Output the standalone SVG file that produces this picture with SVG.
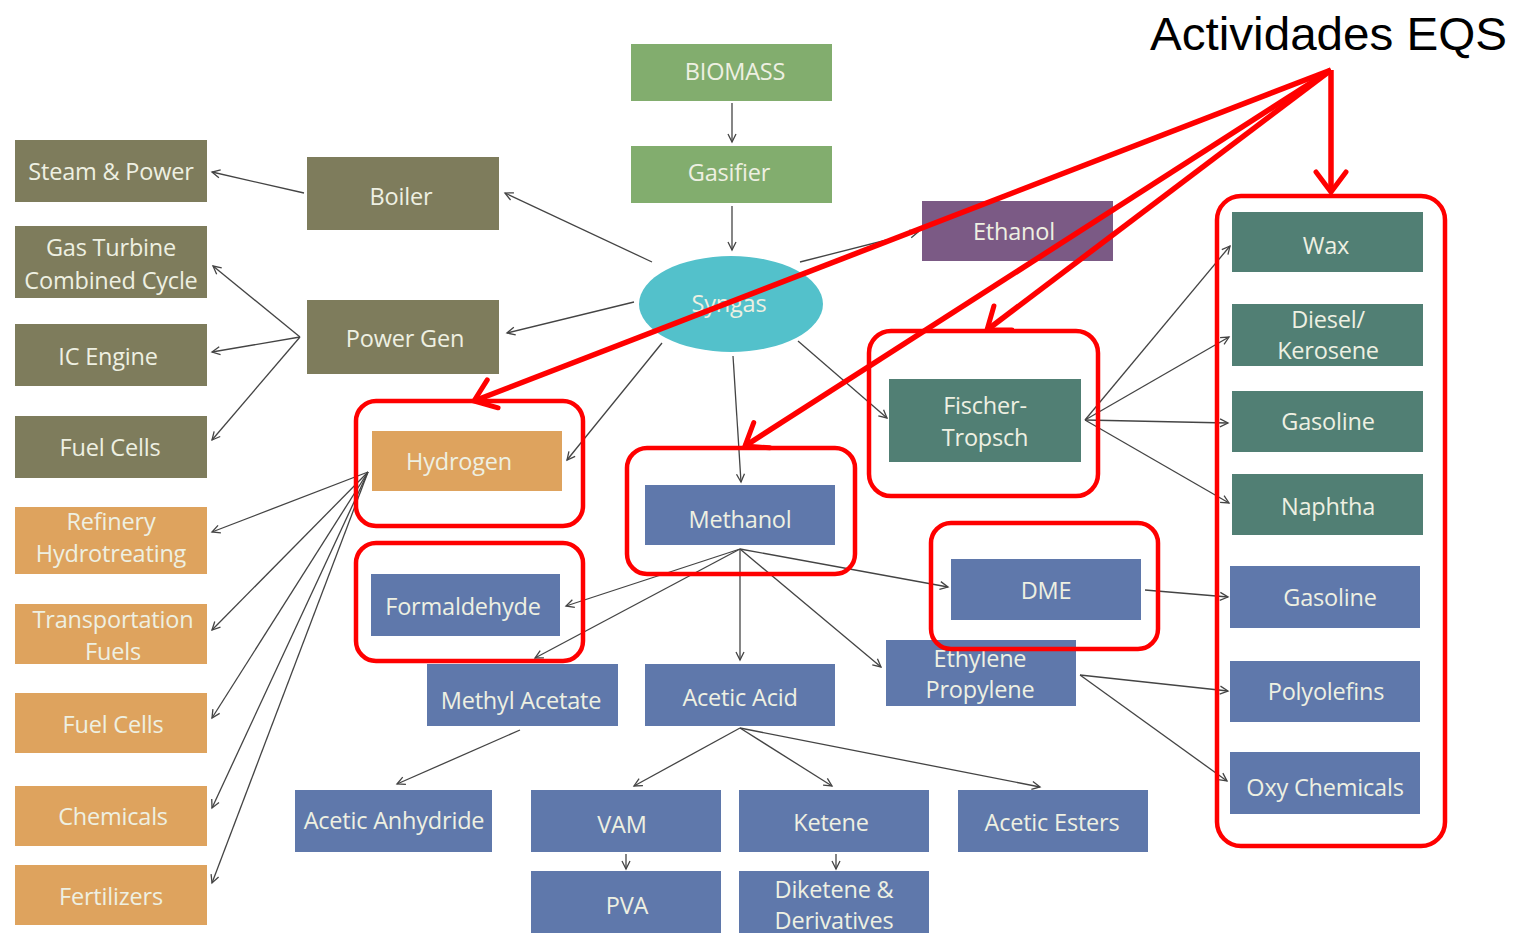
<svg xmlns="http://www.w3.org/2000/svg" width="1514" height="933" viewBox="0 0 1514 933">
  <defs>
    <style>
      .box text { font-family: "Open Sans", "Liberation Sans", sans-serif; font-size: 23.5px; fill: #eef0e2; text-anchor: middle; letter-spacing: -0.2px; }
      .green rect { fill: #82ad6e; }
      .olive rect { fill: #7e7c5c; }
      .orange rect { fill: #dea35e; }
      .blue rect { fill: #5f78ab; }
      .teal rect { fill: #517f74; }
      .purple rect { fill: #7b5a85; }
      .syngas ellipse { fill: #53c1cb; }
      .links line { stroke: #444; stroke-width: 1.3; fill: none; marker-end: url(#tip); }
      .hl rect { fill: none; stroke: #ff0000; stroke-width: 4.5; }
      .callout line { stroke: #ff0000; stroke-width: 5.5; marker-end: url(#redtip); }
      .title { font-family: "Liberation Sans", Arial, sans-serif; font-size: 47px; fill: #000; }
    </style>
    <marker id="tip" markerUnits="userSpaceOnUse" markerWidth="12" markerHeight="12" refX="9" refY="5" orient="auto" viewBox="0 0 12 10">
      <path d="M1,1 L9,5 L1,9" fill="none" stroke="#444" stroke-width="1.3"/>
    </marker>
    <marker id="redtip" markerUnits="userSpaceOnUse" markerWidth="30" markerHeight="40" refX="24" refY="18" orient="auto" viewBox="0 0 30 36">
      <path d="M4,3 L24,18 L4,33" fill="none" stroke="#ff0000" stroke-width="5" stroke-linecap="round" stroke-linejoin="miter"/>
    </marker>
  </defs>

  <rect width="1514" height="933" fill="#ffffff"/>

  <!-- flow connectors -->
  <g id="connectors" class="links">
    <line x1="732" y1="103" x2="732" y2="142"/>
    <line x1="732" y1="206" x2="732" y2="250"/>
    <line x1="652" y1="262" x2="505" y2="193"/>
    <line x1="634" y1="302" x2="507" y2="333"/>
    <line x1="800" y1="262" x2="918" y2="232"/>
    <line x1="662" y1="343" x2="567" y2="460"/>
    <line x1="733" y1="356" x2="741" y2="482"/>
    <line x1="798" y1="341" x2="887" y2="418"/>
    <line x1="304" y1="193" x2="212" y2="172"/>
    <line x1="300" y1="337" x2="213" y2="266"/>
    <line x1="300" y1="337" x2="212" y2="352"/>
    <line x1="300" y1="337" x2="212" y2="440"/>
    <line x1="368" y1="472" x2="212" y2="532"/>
    <line x1="368" y1="472" x2="212" y2="630"/>
    <line x1="368" y1="472" x2="212" y2="718"/>
    <line x1="368" y1="472" x2="212" y2="808"/>
    <line x1="368" y1="472" x2="212" y2="883"/>
    <line x1="740" y1="549" x2="566" y2="606"/>
    <line x1="740" y1="549" x2="535" y2="658"/>
    <line x1="740" y1="549" x2="740" y2="660"/>
    <line x1="740" y1="549" x2="881" y2="667"/>
    <line x1="740" y1="549" x2="948" y2="587"/>
    <line x1="1145" y1="590" x2="1228" y2="597"/>
    <line x1="1080" y1="675" x2="1228" y2="691"/>
    <line x1="1080" y1="675" x2="1227" y2="781"/>
    <line x1="1085" y1="420" x2="1230" y2="246"/>
    <line x1="1085" y1="420" x2="1229" y2="337"/>
    <line x1="1085" y1="420" x2="1228" y2="423"/>
    <line x1="1085" y1="420" x2="1229" y2="503"/>
    <line x1="520" y1="730" x2="397" y2="784"/>
    <line x1="740" y1="728" x2="634" y2="786"/>
    <line x1="740" y1="728" x2="832" y2="786"/>
    <line x1="740" y1="728" x2="1040" y2="787"/>
    <line x1="626" y1="854" x2="626" y2="869"/>
    <line x1="836" y1="854" x2="836" y2="869"/>
  </g>

  <!-- feedstock and gasification -->
  <g id="biomass" class="box green"><rect x="631" y="44" width="201" height="57"/><text x="735" y="80">BIOMASS</text></g>
  <g id="gasifier" class="box green"><rect x="631" y="146" width="201" height="57"/><text x="729" y="181">Gasifier</text></g>
  <g id="syngas" class="box syngas"><ellipse cx="731" cy="304" rx="92" ry="48"/><text x="729" y="312">Syngas</text></g>
  <g id="ethanol" class="box purple"><rect x="922" y="201" width="191" height="60"/><text x="1014" y="240">Ethanol</text></g>

  <!-- power branch -->
  <g id="boiler" class="box olive"><rect x="307" y="157" width="192" height="73"/><text x="401" y="205">Boiler</text></g>
  <g id="power-gen" class="box olive"><rect x="307" y="300" width="192" height="74"/><text x="405" y="347">Power Gen</text></g>
  <g id="steam-power" class="box olive"><rect x="15" y="140" width="192" height="62"/><text x="111" y="180">Steam &amp; Power</text></g>
  <g id="gas-turbine" class="box olive"><rect x="15" y="226" width="192" height="72"/><text x="111" y="256">Gas Turbine</text><text x="111" y="289">Combined Cycle</text></g>
  <g id="ic-engine" class="box olive"><rect x="15" y="324" width="192" height="62"/><text x="108" y="365">IC Engine</text></g>
  <g id="fuel-cells-power" class="box olive"><rect x="15" y="416" width="192" height="62"/><text x="110" y="456">Fuel Cells</text></g>

  <!-- hydrogen branch -->
  <g id="hydrogen" class="box orange"><rect x="372" y="431" width="190" height="60"/><text x="459" y="470">Hydrogen</text></g>
  <g id="refinery" class="box orange"><rect x="15" y="507" width="192" height="67"/><text x="111" y="530">Refinery</text><text x="111" y="562">Hydrotreating</text></g>
  <g id="transportation" class="box orange"><rect x="15" y="604" width="192" height="60"/><text x="113" y="628">Transportation</text><text x="113" y="660">Fuels</text></g>
  <g id="fuel-cells-h2" class="box orange"><rect x="15" y="693" width="192" height="60"/><text x="113" y="733">Fuel Cells</text></g>
  <g id="chemicals" class="box orange"><rect x="15" y="786" width="192" height="60"/><text x="113" y="825">Chemicals</text></g>
  <g id="fertilizers" class="box orange"><rect x="15" y="865" width="192" height="60"/><text x="111" y="905">Fertilizers</text></g>

  <!-- methanol branch -->
  <g id="methanol" class="box blue"><rect x="645" y="485" width="190" height="60"/><text x="740" y="528">Methanol</text></g>
  <g id="formaldehyde" class="box blue"><rect x="371" y="574" width="189" height="62"/><text x="463" y="615">Formaldehyde</text></g>
  <g id="dme" class="box blue"><rect x="951" y="559" width="190" height="61"/><text x="1046" y="599">DME</text></g>
  <g id="ethylene" class="box blue"><rect x="886" y="640" width="190" height="66"/><text x="980" y="667">Ethylene</text><text x="980" y="698">Propylene</text></g>
  <g id="methyl-acetate" class="box blue"><rect x="427" y="664" width="191" height="62"/><text x="521" y="709">Methyl Acetate</text></g>
  <g id="acetic-acid" class="box blue"><rect x="645" y="664" width="190" height="62"/><text x="740" y="706">Acetic Acid</text></g>
  <g id="acetic-anhydride" class="box blue"><rect x="295" y="790" width="197" height="62"/><text x="394" y="829">Acetic Anhydride</text></g>
  <g id="vam" class="box blue"><rect x="531" y="790" width="190" height="62"/><text x="622" y="833">VAM</text></g>
  <g id="ketene" class="box blue"><rect x="739" y="790" width="190" height="62"/><text x="831" y="831">Ketene</text></g>
  <g id="acetic-esters" class="box blue"><rect x="958" y="790" width="190" height="62"/><text x="1052" y="831">Acetic Esters</text></g>
  <g id="pva" class="box blue"><rect x="531" y="871" width="190" height="62"/><text x="627" y="914">PVA</text></g>
  <g id="diketene" class="box blue"><rect x="739" y="871" width="190" height="62"/><text x="834" y="898">Diketene &amp;</text><text x="834" y="929">Derivatives</text></g>

  <!-- Fischer-Tropsch branch -->
  <g id="fischer-tropsch" class="box teal"><rect x="889" y="379" width="192" height="83"/><text x="985" y="414">Fischer-</text><text x="985" y="446">Tropsch</text></g>
  <g id="wax" class="box teal"><rect x="1232" y="212" width="191" height="60"/><text x="1326" y="254">Wax</text></g>
  <g id="diesel" class="box teal"><rect x="1232" y="304" width="191" height="62"/><text x="1328" y="328">Diesel/</text><text x="1328" y="359">Kerosene</text></g>
  <g id="gasoline-ft" class="box teal"><rect x="1232" y="391" width="191" height="61"/><text x="1328" y="430">Gasoline</text></g>
  <g id="naphtha" class="box teal"><rect x="1232" y="474" width="191" height="61"/><text x="1328" y="515">Naphtha</text></g>

  <!-- DME / olefin products -->
  <g id="gasoline-dme" class="box blue"><rect x="1230" y="566" width="190" height="62"/><text x="1330" y="606">Gasoline</text></g>
  <g id="polyolefins" class="box blue"><rect x="1230" y="661" width="190" height="61"/><text x="1326" y="700">Polyolefins</text></g>
  <g id="oxy-chemicals" class="box blue"><rect x="1230" y="752" width="190" height="62"/><text x="1325" y="796">Oxy Chemicals</text></g>

  <!-- highlighted activities -->
  <g id="highlights" class="hl">
    <rect x="356" y="401" width="227" height="125" rx="20"/>
    <rect x="356" y="543" width="227" height="118" rx="20"/>
    <rect x="627" y="448" width="228" height="126" rx="20"/>
    <rect x="869" y="331" width="229" height="165" rx="22"/>
    <rect x="931" y="523" width="227" height="126" rx="20"/>
    <rect x="1217" y="196" width="228" height="650" rx="24"/>
  </g>

  <g id="callout">
    <text class="title" x="1150" y="50" textLength="357" lengthAdjust="spacingAndGlyphs">Actividades EQS</text>
    <g class="callout">
      <line x1="1331" y1="70" x2="474" y2="401"/>
      <line x1="1331" y1="70" x2="745" y2="446"/>
      <line x1="1331" y1="70" x2="987" y2="330"/>
      <line x1="1331" y1="70" x2="1331" y2="192"/>
    </g>
  </g>
</svg>
